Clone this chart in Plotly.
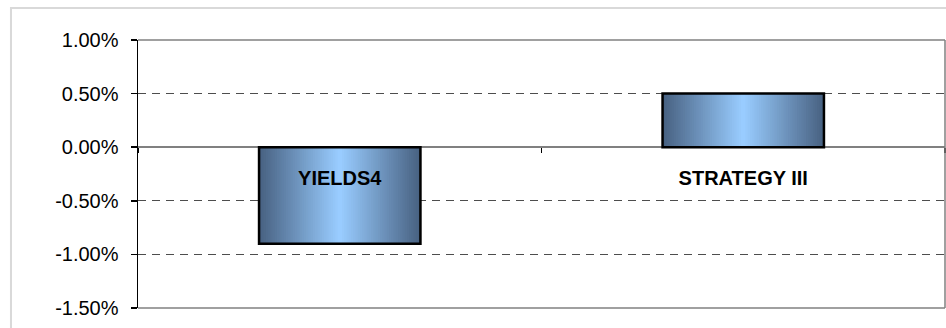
import plotly.graph_objects as go

# ---- data ----
categories = ["YIELDS4", "STRATEGY III"]
values = [-0.009, 0.005]
tick_values = [-0.015, -0.010, -0.005, 0.0, 0.005, 0.010]
tick_labels = ["-1.50%", "-1.00%", "-0.50%", "0.00%", "0.50%", "1.00%"]

FONT = "Liberation Sans, Arial, sans-serif"
BAR_W = 0.4
N_STEPS = 36
DARK = (72, 98, 130)
LIGHT = (153, 204, 255)

fig = go.Figure()

# gradient fill: nested overlaid bars, dark edges -> light centre
for k in range(N_STEPS):
    t = k / (N_STEPS - 1)
    c = tuple(round(DARK[i] + (LIGHT[i] - DARK[i]) * t) for i in range(3))
    w = BAR_W * (1 - k / N_STEPS)
    fig.add_trace(go.Bar(
        x=categories, y=values, width=w,
        marker=dict(color="rgb(%d,%d,%d)" % c, line=dict(width=0)),
        hoverinfo="skip", showlegend=False,
    ))

# outline
fig.add_trace(go.Bar(
    x=categories, y=values, width=BAR_W,
    marker=dict(color="rgba(0,0,0,0)", line=dict(color="black", width=2.5)),
    showlegend=False,
))

fig.update_layout(
    width=946, height=328,
    margin=dict(l=138, r=1, t=40, b=20),
    paper_bgcolor="white", plot_bgcolor="white",
    barmode="overlay",
    font=dict(family=FONT, color="black", size=20),
    xaxis=dict(
        type="category", range=[-0.5, 1.5],
        anchor="free", position=0.6,
        showgrid=False, showline=False, zeroline=False,
        ticks="outside", tickson="boundaries", ticklen=5,
        tickwidth=1.5, tickcolor="black",
        tickfont=dict(family=FONT, size=20, color="black", weight="bold"),
        ticklabelstandoff=17,
    ),
    yaxis=dict(
        range=[-0.015, 0.010],
        tickvals=tick_values, ticktext=tick_labels,
        showgrid=True, gridcolor="#4d4d4d", griddash="8px,6px", gridwidth=1,
        zeroline=True, zerolinecolor="#808080", zerolinewidth=1.5,
        showline=True, linecolor="black", linewidth=1.5,
        ticks="outside", ticklen=6, tickwidth=1.5, tickcolor="black",
        tickfont=dict(family=FONT, size=20, color="black"),
        ticklabelstandoff=8,
    ),
    shapes=[
        # plot frame (top, right, bottom)
        dict(type="line", xref="paper", yref="paper", x0=0, x1=1, y0=1, y1=1,
             line=dict(color="#808080", width=1.5), layer="above"),
        dict(type="line", xref="paper", yref="paper", x0=1, x1=1, y0=0, y1=1,
             line=dict(color="#808080", width=1.5), layer="above"),
        dict(type="line", xref="paper", yref="paper", x0=0, x1=1, y0=0, y1=0,
             line=dict(color="#808080", width=1.5), layer="above"),
        # outer chart border
        dict(type="rect", xref="paper", yref="paper",
             x0=-0.1574, x1=1.05, y0=-0.2, y1=1.1194,
             line=dict(color="#d9d9d9", width=2), layer="below"),
    ],
)

fig.write_html(
    "out.html",
    config={"displayModeBar": False, "staticPlot": True},
    post_script="document.body.style.margin='0';document.body.style.overflow='hidden';",
)
